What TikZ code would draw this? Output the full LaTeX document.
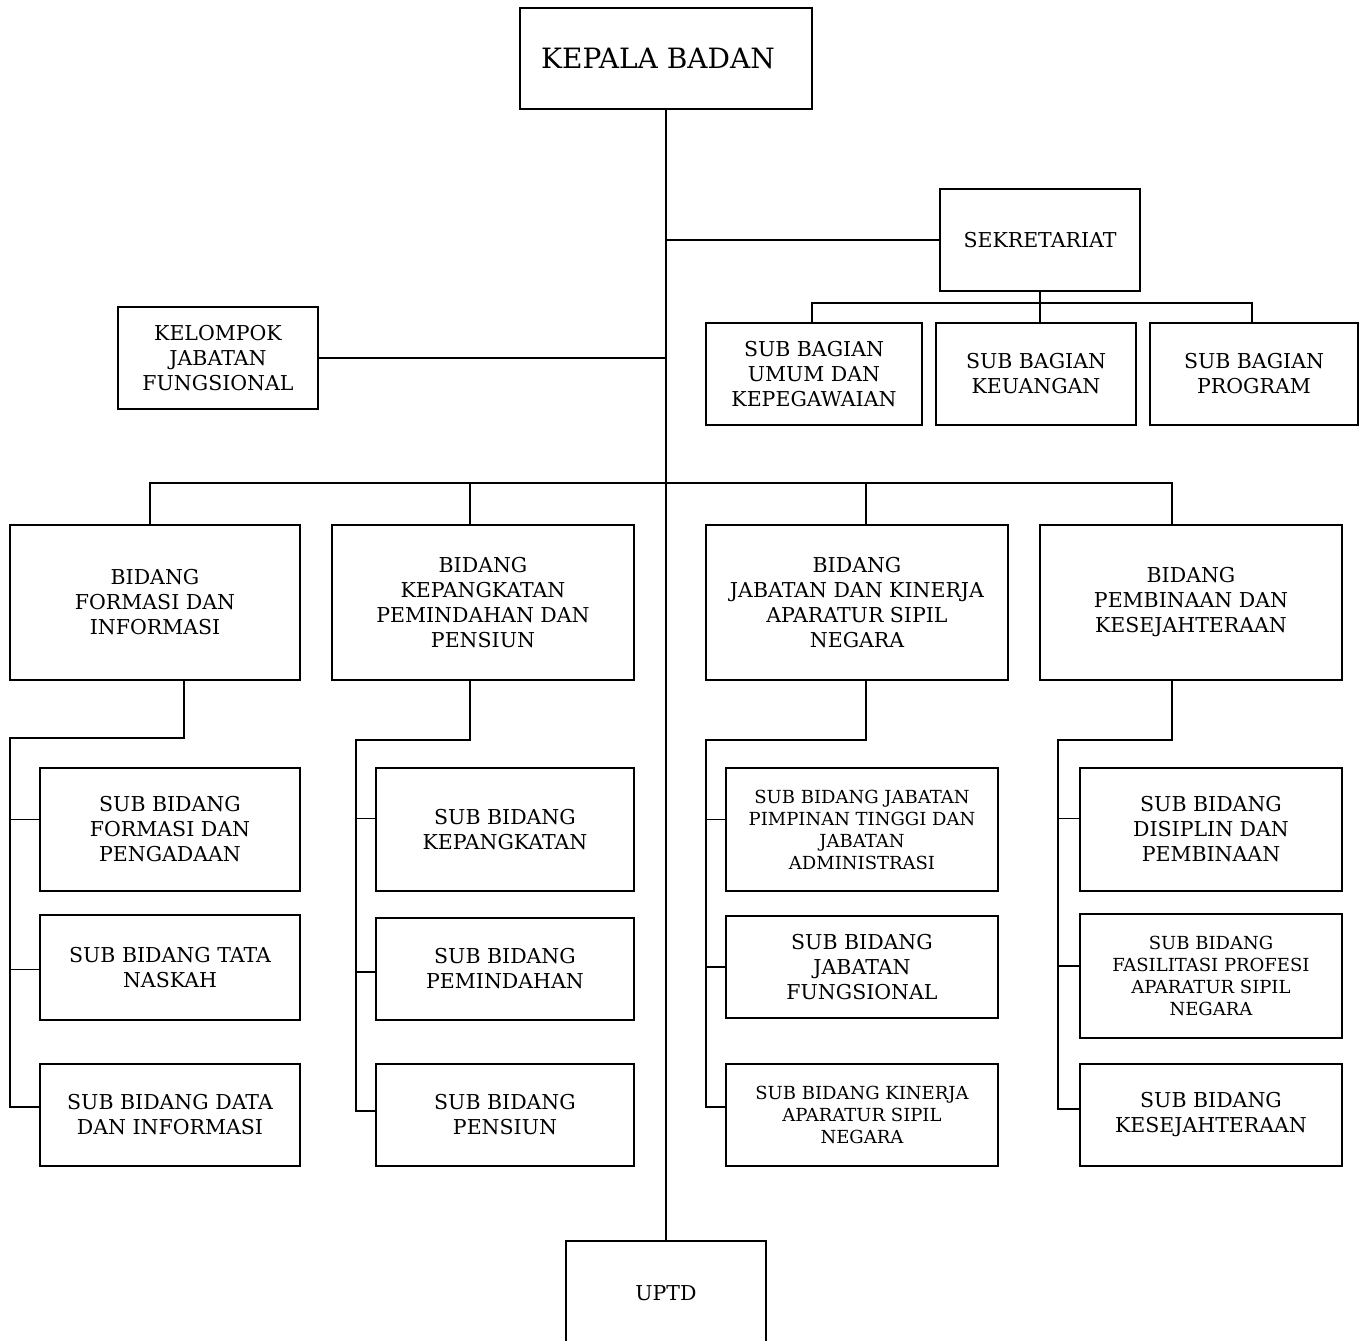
\documentclass[tikz,border=0pt]{standalone}
\usepackage{fontspec}
\setmainfont{DejaVu Serif}

\begin{document}
\begin{tikzpicture}[x=1pt,y=-1pt,
    box/.style={draw,line width=1.8pt,align=center,inner sep=0pt,
      font=\fontsize{20.5}{25}\selectfont},
    smallbox/.style={box,font=\fontsize{18}{22}\selectfont},
    link/.style={line width=1.8pt}]
    \useasboundingbox (0,0) rectangle (1368,1341);
    \clip (0,0) rectangle (1368,1341);

    % top level
    \node[box,minimum width=292pt,minimum height=101pt,
      font=\fontsize{28}{32}\selectfont] (kepala) at (666,58.5)
      {KEPALA BADAN\hspace{16pt}};
    \node[box,minimum width=200pt,minimum height=102pt] (sekre) at (1040,240) {SEKRETARIAT};
    \node[box,minimum width=200pt,minimum height=102pt] (kelompok) at (218,358)
      {KELOMPOK\\JABATAN\\FUNGSIONAL};
    \node[box,minimum width=200pt,minimum height=104pt] (uptd) at (666,1293) {UPTD};

    % sub bagian
    \node[box,minimum width=216pt,minimum height=102pt] (umum) at (814,374)
      {SUB BAGIAN\\UMUM DAN\\KEPEGAWAIAN};
    \node[box,minimum width=200pt,minimum height=102pt] (keu) at (1036,374)
      {SUB BAGIAN\\KEUANGAN};
    \node[box,minimum width=208pt,minimum height=102pt] (prog) at (1254,374)
      {SUB BAGIAN\\PROGRAM};

    % bidang
    \node[box,minimum width=290pt,minimum height=155pt] (bid1) at (155,602.5)
      {BIDANG\\FORMASI DAN\\INFORMASI};
    \node[box,minimum width=302pt,minimum height=155pt] (bid2) at (483,602.5)
      {BIDANG\\KEPANGKATAN\\PEMINDAHAN DAN\\PENSIUN};
    \node[box,minimum width=302pt,minimum height=155pt] (bid3) at (857,602.5)
      {BIDANG\\JABATAN DAN KINERJA\\APARATUR SIPIL\\NEGARA};
    \node[box,minimum width=302pt,minimum height=155pt] (bid4) at (1191,602.5)
      {BIDANG\\PEMBINAAN DAN\\KESEJAHTERAAN};

    % sub bidang
    \node[box,minimum width=260pt,minimum height=123pt] (sub11) at (170,829.5)
      {SUB BIDANG\\FORMASI DAN\\PENGADAAN};
    \node[box,minimum width=260pt,minimum height=105pt] (sub12) at (170,967.5)
      {SUB BIDANG TATA\\NASKAH};
    \node[box,minimum width=260pt,minimum height=102pt] (sub13) at (170,1115)
      {SUB BIDANG DATA\\DAN INFORMASI};

    \node[box,minimum width=258pt,minimum height=123pt] (sub21) at (505,829.5)
      {SUB BIDANG\\KEPANGKATAN};
    \node[box,minimum width=258pt,minimum height=102pt] (sub22) at (505,969)
      {SUB BIDANG\\PEMINDAHAN};
    \node[box,minimum width=258pt,minimum height=102pt] (sub23) at (505,1115)
      {SUB BIDANG\\PENSIUN};

    \node[smallbox,minimum width=272pt,minimum height=123pt] (sub31) at (862,829.5)
      {SUB BIDANG JABATAN\\PIMPINAN TINGGI DAN\\JABATAN\\ADMINISTRASI};
    \node[box,minimum width=272pt,minimum height=102pt] (sub32) at (862,967)
      {SUB BIDANG\\JABATAN\\FUNGSIONAL};
    \node[smallbox,minimum width=272pt,minimum height=102pt] (sub33) at (862,1115)
      {SUB BIDANG KINERJA\\APARATUR SIPIL\\NEGARA};

    \node[box,minimum width=262pt,minimum height=123pt] (sub41) at (1211,829.5)
      {SUB BIDANG\\DISIPLIN DAN\\PEMBINAAN};
    \node[smallbox,minimum width=262pt,minimum height=124pt] (sub42) at (1211,976)
      {SUB BIDANG\\FASILITASI PROFESI\\APARATUR SIPIL\\NEGARA};
    \node[box,minimum width=262pt,minimum height=102pt] (sub43) at (1211,1115)
      {SUB BIDANG\\KESEJAHTERAAN};

    % main line
    \draw[link] (kepala.south) -- (uptd.north);
    \draw[link] (sekre.west) -- (sekre.west -| kepala.south);
    \draw[link] (kelompok.east) -- (kelompok.east -| kepala.south);

    \coordinate (sbus) at (1040,303);
    \draw[link] (sekre.south) -- (sbus);
    \draw[link] ([xshift=-2pt]umum.north) |- (sbus) -| ([xshift=-2pt]prog.north);
    \draw[link] (sbus) -- (sbus |- keu.north);

    % bidang bus
    \draw[link] ([xshift=-5pt]bid1.north) -- ++(0,-41) -| ([xshift=-19pt]bid4.north);
    \draw[link] ([xshift=-13pt]bid2.north) -- ++(0,-41);
    \draw[link] ([xshift=9pt]bid3.north) -- ++(0,-41);

    % column spines
    \coordinate (c1) at (10,738);
    \coordinate (c2) at (356,740);
    \coordinate (c3) at (706,740);
    \coordinate (c4) at (1058,740);
    \draw[link] ([xshift=29pt]bid1.south) |- (c1) |- ([yshift=8pt]sub13.west);
    \draw[link] ([xshift=-13pt]bid2.south) |- (c2) |- ([yshift=4pt]sub23.west);
    \draw[link] ([xshift=9pt]bid3.south) |- (c3) |- ([yshift=8pt]sub33.west);
    \draw[link] ([xshift=-19pt]bid4.south) |- (c4) |- ([yshift=6pt]sub43.west);

    \draw[link] ([yshift=10pt]sub11.west) -| (c1);
    \draw[link] ([yshift=-2pt]sub12.west) -| (c1);
    \draw[link] ([yshift=11pt]sub21.west) -| (c2);
    \draw[link] ([yshift=-3pt]sub22.west) -| (c2);
    \draw[link] ([yshift=10pt]sub31.west) -| (c3);
    \draw[link] (sub32.west) -| (c3);
    \draw[link] ([yshift=11pt]sub41.west) -| (c4);
    \draw[link] ([yshift=10pt]sub42.west) -| (c4);
\end{tikzpicture}
\end{document}
